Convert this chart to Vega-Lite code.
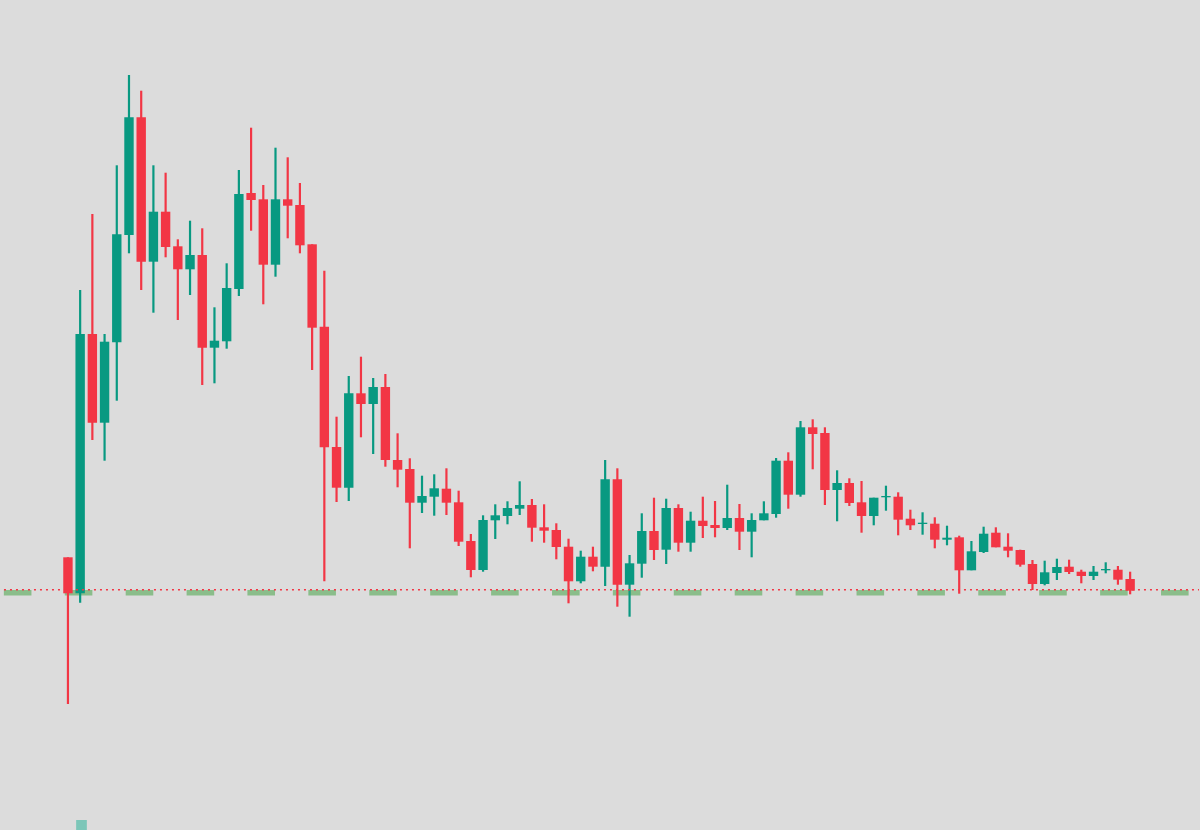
{
  "$schema": "https://vega.github.io/schema/vega-lite/v6.json",
  "width": 1200,
  "height": 830,
  "padding": 0,
  "autosize": {"type": "fit", "contains": "padding"},
  "background": "#dcdcdc",
  "view": {"stroke": null},
  "datasets": {
    "candles": [
      {"i":0,"dir":"down","open":32.7,"close":-3.3,"high":32.7,"low":-114},
      {"i":1,"dir":"up","open":-3.3,"close":256,"high":300,"low":-12.7},
      {"i":2,"dir":"down","open":256,"close":167.3,"high":376,"low":150},
      {"i":3,"dir":"up","open":167.3,"close":248.3,"high":256,"low":129.3},
      {"i":4,"dir":"up","open":247.7,"close":355.7,"high":424.7,"low":189.3},
      {"i":5,"dir":"up","open":355,"close":472.7,"high":515,"low":336.7},
      {"i":6,"dir":"down","open":472.7,"close":328.3,"high":499.3,"low":300},
      {"i":7,"dir":"up","open":328.3,"close":378.3,"high":424.7,"low":277.3},
      {"i":8,"dir":"down","open":378.3,"close":343,"high":417.3,"low":332.7},
      {"i":9,"dir":"down","open":343.7,"close":320.7,"high":350.7,"low":270},
      {"i":10,"dir":"up","open":320.7,"close":335,"high":369.3,"low":295},
      {"i":11,"dir":"down","open":335,"close":242.3,"high":361.7,"low":205},
      {"i":12,"dir":"up","open":242.3,"close":249.3,"high":282.7,"low":206.7},
      {"i":13,"dir":"up","open":248.7,"close":302,"high":326.7,"low":241.3},
      {"i":14,"dir":"up","open":301,"close":396,"high":420,"low":294},
      {"i":15,"dir":"down","open":397,"close":390,"high":462.3,"low":359.3},
      {"i":16,"dir":"down","open":390.7,"close":325.3,"high":405,"low":285.7},
      {"i":17,"dir":"up","open":325.3,"close":390.7,"high":442.3,"low":313.3},
      {"i":18,"dir":"down","open":390.7,"close":384.3,"high":432.7,"low":351.7},
      {"i":19,"dir":"down","open":385,"close":344.7,"high":407,"low":336.7},
      {"i":20,"dir":"down","open":345.7,"close":262.3,"high":345.7,"low":220},
      {"i":21,"dir":"down","open":263.3,"close":142.7,"high":319.3,"low":8.7},
      {"i":22,"dir":"down","open":143,"close":102.3,"high":173.3,"low":88},
      {"i":23,"dir":"up","open":102.3,"close":196.7,"high":214,"low":89},
      {"i":24,"dir":"down","open":196.7,"close":186,"high":233.3,"low":152.7},
      {"i":25,"dir":"up","open":186,"close":203,"high":212,"low":136},
      {"i":26,"dir":"down","open":203,"close":130,"high":216,"low":123.3},
      {"i":27,"dir":"down","open":130,"close":120.3,"high":156.7,"low":102.7},
      {"i":28,"dir":"down","open":121,"close":87.3,"high":131.7,"low":41.7},
      {"i":29,"dir":"up","open":87.3,"close":94,"high":114.3,"low":77},
      {"i":30,"dir":"up","open":93.3,"close":101.7,"high":115.7,"low":74.3},
      {"i":31,"dir":"down","open":101.3,"close":87.3,"high":121.7,"low":75},
      {"i":32,"dir":"down","open":87.7,"close":48.3,"high":99.3,"low":44},
      {"i":33,"dir":"down","open":49,"close":20,"high":56,"low":12.7},
      {"i":34,"dir":"up","open":20,"close":70,"high":74.7,"low":18.3},
      {"i":35,"dir":"up","open":69.7,"close":74.7,"high":85.7,"low":51},
      {"i":36,"dir":"up","open":74,"close":82,"high":88.7,"low":65.7},
      {"i":37,"dir":"up","open":81.3,"close":85,"high":108.7,"low":75},
      {"i":38,"dir":"down","open":85,"close":62.3,"high":91,"low":48.3},
      {"i":39,"dir":"down","open":62.7,"close":59.3,"high":85.7,"low":47.3},
      {"i":40,"dir":"down","open":60,"close":43,"high":66.7,"low":30.7},
      {"i":41,"dir":"down","open":43.3,"close":8.7,"high":51.3,"low":-13.3},
      {"i":42,"dir":"up","open":8.7,"close":33.3,"high":39.3,"low":6.7},
      {"i":43,"dir":"down","open":33.3,"close":23.3,"high":43.3,"low":18.7},
      {"i":44,"dir":"up","open":23.3,"close":110.7,"high":130,"low":4},
      {"i":45,"dir":"down","open":110.7,"close":5.3,"high":121.7,"low":-16.7},
      {"i":46,"dir":"up","open":5.3,"close":26.7,"high":35,"low":-26.7},
      {"i":47,"dir":"up","open":26.3,"close":59,"high":76.7,"low":12.3},
      {"i":48,"dir":"down","open":59,"close":40,"high":92.3,"low":30},
      {"i":49,"dir":"up","open":40.3,"close":82,"high":91.3,"low":26},
      {"i":50,"dir":"down","open":82,"close":47.3,"high":85.7,"low":38.3},
      {"i":51,"dir":"up","open":47.3,"close":69.3,"high":78.3,"low":38.3},
      {"i":52,"dir":"down","open":69.3,"close":64,"high":93.3,"low":52},
      {"i":53,"dir":"down","open":65,"close":62,"high":89,"low":52.7},
      {"i":54,"dir":"up","open":62,"close":72,"high":105.3,"low":60},
      {"i":55,"dir":"down","open":72,"close":58.3,"high":86,"low":40},
      {"i":56,"dir":"up","open":58.3,"close":70,"high":76.7,"low":32.7},
      {"i":57,"dir":"up","open":69.7,"close":76.7,"high":88.7,"low":69.7},
      {"i":58,"dir":"up","open":76,"close":129.3,"high":132,"low":72.3},
      {"i":59,"dir":"down","open":129.3,"close":95.3,"high":137.7,"low":81.3},
      {"i":60,"dir":"up","open":95.3,"close":162.7,"high":169,"low":93.3},
      {"i":61,"dir":"down","open":162.7,"close":156,"high":170.7,"low":120.7},
      {"i":62,"dir":"down","open":157,"close":100,"high":162.7,"low":85},
      {"i":63,"dir":"up","open":100,"close":107,"high":119.7,"low":68.7},
      {"i":64,"dir":"down","open":107,"close":87,"high":111.7,"low":84},
      {"i":65,"dir":"down","open":87.7,"close":74,"high":109,"low":57.3},
      {"i":66,"dir":"up","open":74,"close":92.3,"high":92.3,"low":64.7},
      {"i":67,"dir":"up","open":92.7,"close":94,"high":104.3,"low":79.3},
      {"i":68,"dir":"down","open":93.3,"close":70.3,"high":97.7,"low":54.7},
      {"i":69,"dir":"down","open":71.3,"close":64.7,"high":80.3,"low":60},
      {"i":70,"dir":"up","open":66,"close":67.3,"high":77.7,"low":55.3},
      {"i":71,"dir":"down","open":66.3,"close":50.3,"high":72.7,"low":41.7},
      {"i":72,"dir":"up","open":50.3,"close":52.3,"high":64.3,"low":44.7},
      {"i":73,"dir":"down","open":52.7,"close":19.7,"high":54.3,"low":-3.7},
      {"i":74,"dir":"up","open":19.7,"close":38.7,"high":49,"low":19.7},
      {"i":75,"dir":"up","open":38,"close":56.3,"high":63.3,"low":37},
      {"i":76,"dir":"down","open":57.3,"close":42.7,"high":62.7,"low":42.7},
      {"i":77,"dir":"down","open":43.3,"close":39.3,"high":56.7,"low":32.7},
      {"i":78,"dir":"down","open":40,"close":25.3,"high":40.3,"low":23.3},
      {"i":79,"dir":"down","open":26,"close":6,"high":30,"low":0},
      {"i":80,"dir":"up","open":6,"close":17.7,"high":29.3,"low":4.7},
      {"i":81,"dir":"up","open":17,"close":23,"high":31.3,"low":10},
      {"i":82,"dir":"down","open":23.3,"close":18,"high":30.3,"low":16},
      {"i":83,"dir":"down","open":18.3,"close":14,"high":20.3,"low":6.7},
      {"i":84,"dir":"up","open":14,"close":18.3,"high":24,"low":10},
      {"i":85,"dir":"up","open":19.7,"close":21,"high":27.7,"low":16.7},
      {"i":86,"dir":"down","open":20.3,"close":10.3,"high":24,"low":5.3},
      {"i":87,"dir":"down","open":11,"close":-0.7,"high":18.3,"low":-4.3}
    ],
    "sessions": [
      {"start":-5.25,"end":-2.99},
      {"start":-0.26,"end":2.0},
      {"start":4.73,"end":6.99},
      {"start":9.72,"end":11.98},
      {"start":14.7,"end":16.96},
      {"start":19.69,"end":21.95},
      {"start":24.68,"end":26.94},
      {"start":29.67,"end":31.93},
      {"start":34.66,"end":36.92},
      {"start":39.65,"end":41.91},
      {"start":44.63,"end":46.89},
      {"start":49.62,"end":51.88},
      {"start":54.61,"end":56.87},
      {"start":59.6,"end":61.86},
      {"start":64.59,"end":66.85},
      {"start":69.57,"end":71.83},
      {"start":74.56,"end":76.82},
      {"start":79.55,"end":81.81},
      {"start":84.54,"end":86.8},
      {"start":89.53,"end":91.79}
    ],
    "volume": [
      {"i":1.11,"base":-240,"top":-230}
    ]
  },
  "layer": [
    {
      "data": {"name": "sessions"},
      "mark": {"type": "rect", "color": "#8abd8a"},
      "encoding": {
        "x": {"field": "start", "type": "quantitative", "axis": null, "scale": {"domain": [-5.565, 92.64], "nice": false, "zero": false, "padding": 0}},
        "x2": {"field": "end"},
        "y": {"datum": 0, "type": "quantitative", "axis": null, "scale": {"domain": [-240, 590], "nice": false, "zero": false, "padding": 0}},
        "y2": {"datum": -5.5}
      }
    },
    {
      "data": {"name": "volume"},
      "mark": {"type": "bar", "size": 10.7, "color": "#7cc6b8"},
      "encoding": {
        "x": {"field": "i", "type": "quantitative", "axis": null},
        "y": {"field": "base", "type": "quantitative", "axis": null},
        "y2": {"field": "top"}
      }
    },
    {
      "data": {"name": "candles"},
      "mark": {"type": "rule", "strokeWidth": 2.2},
      "encoding": {
        "x": {"field": "i", "type": "quantitative", "axis": null},
        "y": {"field": "low", "type": "quantitative", "axis": null},
        "y2": {"field": "high"},
        "color": {"field": "dir", "type": "nominal", "legend": null, "scale": {"domain": ["up", "down"], "range": ["#089981", "#f23645"]}}
      }
    },
    {
      "data": {"name": "candles"},
      "mark": {"type": "bar", "size": 9.4},
      "encoding": {
        "x": {"field": "i", "type": "quantitative", "axis": null},
        "y": {"field": "open", "type": "quantitative", "axis": null},
        "y2": {"field": "close"},
        "color": {"field": "dir", "type": "nominal", "legend": null}
      }
    },
    {
      "data": {"values": [{"level": 0.3, "from": -5.24, "to": 92.64}]},
      "mark": {"type": "rule", "color": "#f23645", "strokeWidth": 1.6, "strokeDash": [2, 4]},
      "encoding": {
        "x": {"field": "from", "type": "quantitative", "axis": null},
        "x2": {"field": "to"},
        "y": {"field": "level", "type": "quantitative", "axis": null}
      }
    }
  ]
}
